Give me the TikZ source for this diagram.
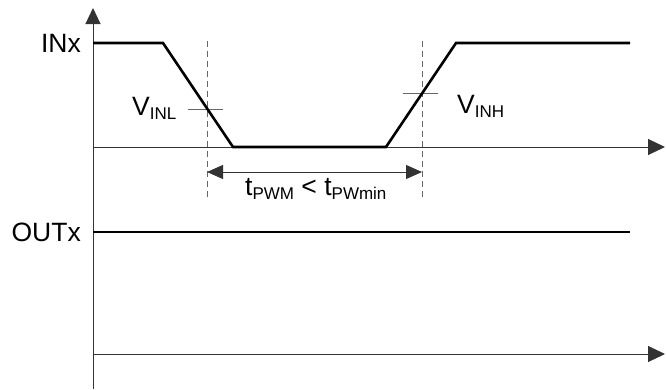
\documentclass[tikz,border=0pt]{standalone}
\usepackage{fontspec}
\setmainfont{Liberation Sans}
\usetikzlibrary{arrows.meta}
\newcommand{\sublbl}[2]{#1\raisebox{-4pt}{\fontsize{17}{17}\selectfont #2}}
\begin{document}
\begin{tikzpicture}[x=1pt,y=-1pt,
  axis/.style={draw=black!80,line width=1pt},
  sig/.style={draw=black,line width=2.6pt,line join=miter},
  guide/.style={draw=black!60,line width=1pt,dash pattern=on 6pt off 4pt},
  tickmark/.style={draw=black!60,line width=1pt},
  dimline/.style={draw=black!80,line width=1pt,{Triangle[length=16pt,width=14pt]}-{Triangle[length=16pt,width=14pt]}},
  txt/.style={font=\fontsize{26.5}{26.5}\selectfont,inner sep=0pt}]
\useasboundingbox (0,0) rectangle (666,389);
% axes
\coordinate (yb) at (93,389);
\coordinate (yt) at (93,8);
\coordinate (a1s) at (93,147);
\coordinate (a1e) at (665,147);
\coordinate (a2s) at (93,354);
\coordinate (a2e) at (665,354);
\draw[axis,-{Triangle[length=16pt,width=15pt]}] (yb) -- (yt);
\draw[axis,-{Triangle[length=17pt,width=16pt]}] (a1s) -- (a1e);
\draw[axis,-{Triangle[length=17pt,width=16pt]}] (a2s) -- (a2e);
% dashed guides
\coordinate (gl1) at (207,41);
\coordinate (gl2) at (207,200);
\coordinate (gr1) at (422,41);
\coordinate (gr2) at (422,200);
\draw[guide] (gl1) -- (gl2);
\draw[guide] (gr1) -- (gr2);
% threshold ticks
\coordinate (tl1) at (188,109);
\coordinate (tl2) at (223,109);
\coordinate (tr1) at (403,93);
\coordinate (tr2) at (438,93);
\draw[tickmark] (tl1) -- (tl2);
\draw[tickmark] (tr1) -- (tr2);
% INx waveform
\coordinate (w0) at (93,43);
\coordinate (w1) at (163,43);
\coordinate (w2) at (233,147);
\coordinate (w3) at (386,147);
\coordinate (w4) at (456,43);
\coordinate (w5) at (630,43);
\draw[sig] (w0) -- (w1) -- (w2) -- (w3) -- (w4) -- (w5);
% OUTx waveform
\coordinate (o0) at (93,232);
\coordinate (o1) at (630,232);
\draw[sig] (o0) -- (o1);
% dimension arrow
\coordinate (d1) at (207,172);
\coordinate (d2) at (422,172);
\draw[dimline] (d1) -- (d2);
% labels
\node[txt,anchor=east] (inx) at (81,43.5) {INx};
\node[txt,anchor=east] (outx) at (81,232) {OUTx};
\node[txt,anchor=base west] (vinl) at (132,115.5) {\sublbl{V}{INL}};
\node[txt,anchor=base west] (vinh) at (457,113.5) {\sublbl{V}{INH}};
\node[txt,anchor=base west] (tpw) at (245,195) {\sublbl{t}{PWM} < \sublbl{t}{PWmin}};
\end{tikzpicture}
\end{document}
